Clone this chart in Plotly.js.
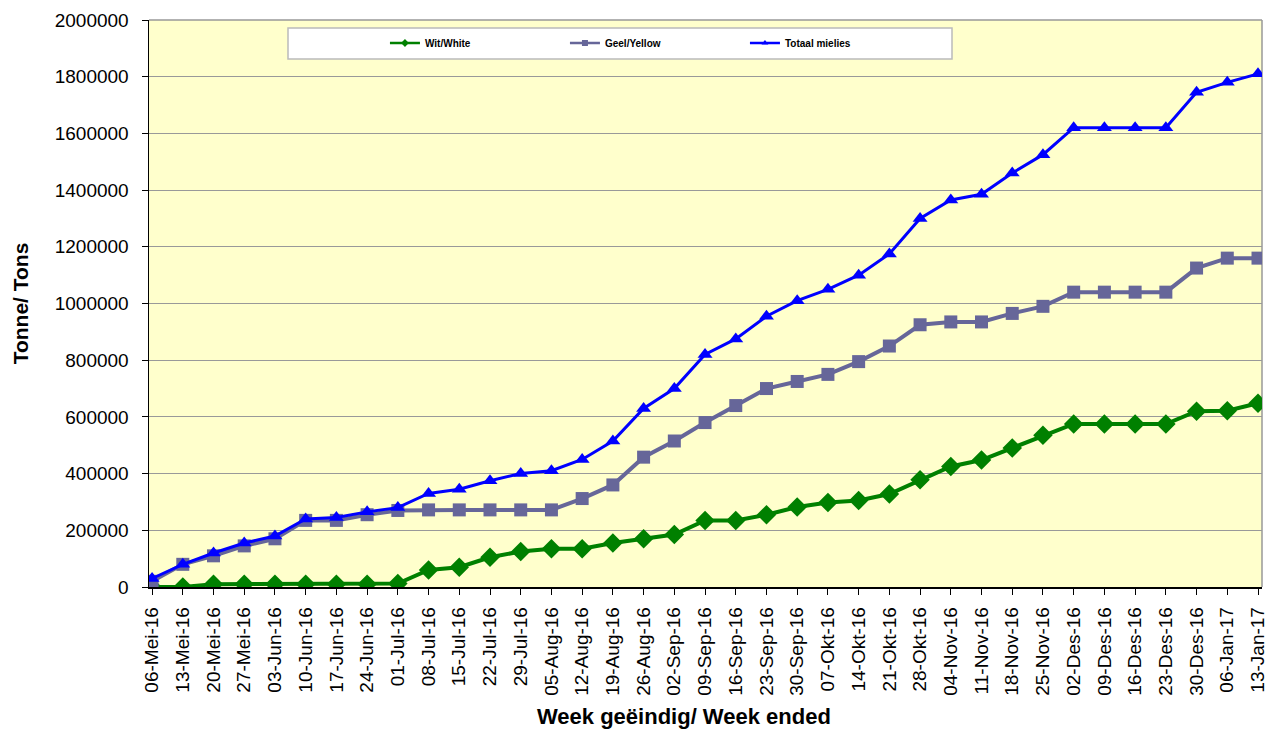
<!DOCTYPE html>
<html>
<head>
<meta charset="utf-8">
<script src="https://cdn.plot.ly/plotly-3.0.1.min.js"></script>
<style>html,body{margin:0;padding:0;background:#fff;}#chart{width:1267px;height:729px;}</style>
</head>
<body>
<div id="chart"></div>
<script>
const weeks = ["06-Mei-16","13-Mei-16","20-Mei-16","27-Mei-16","03-Jun-16","10-Jun-16","17-Jun-16","24-Jun-16","01-Jul-16","08-Jul-16","15-Jul-16","22-Jul-16","29-Jul-16","05-Aug-16","12-Aug-16","19-Aug-16","26-Aug-16","02-Sep-16","09-Sep-16","16-Sep-16","23-Sep-16","30-Sep-16","07-Okt-16","14-Okt-16","21-Okt-16","28-Okt-16","04-Nov-16","11-Nov-16","18-Nov-16","25-Nov-16","02-Des-16","09-Des-16","16-Des-16","23-Des-16","30-Des-16","06-Jan-17","13-Jan-17"];
const witWhite = [0,0,10000,10000,10000,10000,10000,10000,12000,60000,70000,105000,125000,135000,135000,155000,170000,185000,235000,235000,255000,282000,298000,305000,328000,378000,425000,448000,490000,535000,575000,575000,575000,575000,620000,622000,648000];
const geelYellow = [20000,80000,110000,145000,170000,235000,235000,255000,270000,272000,272000,272000,272000,272000,312000,360000,458000,515000,580000,640000,700000,725000,750000,795000,850000,925000,935000,935000,965000,990000,1040000,1040000,1040000,1040000,1125000,1160000,1160000];
const totaal = [30000,80000,120000,155000,180000,240000,245000,265000,280000,330000,345000,375000,400000,410000,450000,515000,630000,700000,820000,875000,955000,1010000,1050000,1100000,1175000,1300000,1365000,1385000,1460000,1525000,1620000,1620000,1620000,1620000,1745000,1780000,1810000];
const seriesNames = ["Wit/White","Geel/Yellow","Totaal mielies"];
const seriesColors = ['#008000','#666699','#0000FF'];
const seriesSymbols = ['diamond','square','triangle-up'];

const idx = weeks.map((_, i) => i);
const dataSets = [witWhite, geelYellow, totaal];
const lineWidths = [4, 4, 3];
const markerSizes = [15, 13, 13];
const traces = [];
dataSets.forEach((ys, k) => {
  traces.push({x: idx, y: ys, name: seriesNames[k], type: 'scatter', mode: 'lines+markers', showlegend: false,
    line: {color: seriesColors[k], width: lineWidths[k]},
    marker: {symbol: seriesSymbols[k], size: markerSizes[k], color: seriesColors[k]}});
});
// legend entries (small symbols as in the reference legend)
dataSets.forEach((ys, k) => {
  traces.push({x: [null], y: [null], name: seriesNames[k], type: 'scatter', mode: 'lines+markers', showlegend: true,
    line: {color: seriesColors[k], width: 2.5},
    marker: {symbol: seriesSymbols[k], size: 6, color: seriesColors[k]}});
});

const layout = {
  width: 1267, height: 729,
  margin: {l: 149, r: 5, t: 20, b: 142},
  paper_bgcolor: '#ffffff',
  plot_bgcolor: '#FFFFCC',
  font: {family: 'Liberation Sans, Arial, sans-serif', color: '#000'},
  showlegend: true,
  legend: {orientation: 'h', x: 0.212, xanchor: 'left', y: 0.9594, yanchor: 'middle',
           bgcolor: 'rgba(0,0,0,0)', font: {size: 10, family: 'Liberation Sans, Arial, sans-serif', weight: 'bold'},
           entrywidth: 135, itemsizing: 'trace', traceorder: 'normal'},
  xaxis: {
    range: [-0.1, 36.13],
    tickmode: 'array', tickvals: idx, ticktext: weeks,
    tickangle: -90, tickfont: {size: 19}, ticklabeloverflow: 'allow',
    ticks: 'outside', ticklen: 6, tickcolor: '#000', ticklabelstandoff: 5,
    showline: true, linecolor: '#000', linewidth: 1.5,
    showgrid: false, zeroline: false
  },
  yaxis: {
    range: [0, 2000000], dtick: 200000, tickformat: 'd',
    tickfont: {size: 19},
    ticks: 'outside', ticklen: 6, tickcolor: '#000', ticklabelstandoff: 9,
    showline: true, linecolor: '#000', linewidth: 1.5,
    showgrid: true, gridcolor: '#999999', gridwidth: 1,
    zeroline: false,
    title: {text: 'Tonne/ Tons', font: {size: 21, weight: 'bold'}, standoff: 20}
  },
  annotations: [
    {text: 'Week geëindig/ Week ended', xref: 'paper', yref: 'paper', x: (684-149)/1113, y: (587-717)/567,
     xanchor: 'center', yanchor: 'middle', showarrow: false, font: {size: 22, weight: 'bold', color: '#000'}}
  ],
  shapes: [
    {type: 'line', xref: 'paper', yref: 'paper', x0: 0, x1: 1, y0: 1, y1: 1, line: {color: '#999999', width: 1.5}, layer: 'below'},
    {type: 'line', xref: 'paper', yref: 'paper', x0: 1, x1: 1, y0: 0, y1: 1, line: {color: '#999999', width: 1.5}, layer: 'below'},
    {type: 'rect', xref: 'paper', yref: 'paper',
     x0: (288-149)/1113, x1: (952-149)/1113, y0: (587-59)/567, y1: (587-28)/567,
     fillcolor: '#ffffff', line: {color: '#bbbbbb', width: 1.5}, layer: 'above'}
  ]
};

Plotly.newPlot('chart', traces, layout, {displayModeBar: false, staticPlot: true});
</script>
</body>
</html>
